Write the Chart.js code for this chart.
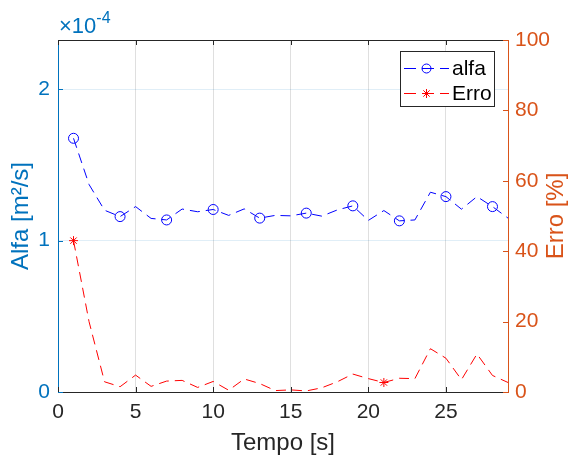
<!DOCTYPE html>
<html><head><meta charset="utf-8">
<script src="https://cdn.jsdelivr.net/npm/chart.js@4/dist/chart.umd.min.js"></script>
<style>html,body{margin:0;padding:0;background:#fff}canvas{display:block}</style>
</head><body>
<canvas id="c" width="586" height="462"></canvas>
<script>
// ---- data ----
const tempo = [1,2,3,4,5,6,7,8,9,10,11,12,13,14,15,16,17,18,19,20,21,22,23,24,25,26,27,28,29];
// alfa in units of 1e-4 m²/s
const alfa = [1.675,1.37,1.20,1.158,1.224,1.146,1.136,1.208,1.19,1.205,1.166,1.209,1.148,1.166,1.163,1.181,1.161,1.202,1.229,1.133,1.198,1.13,1.136,1.319,1.29,1.207,1.29,1.224,1.148];
// erro in %
const erro = [43.0,20.0,2.9,1.5,4.8,1.6,3.1,3.3,1.3,3.0,0.5,3.7,2.4,0.4,0.6,0.3,1.2,2.9,5.1,3.8,2.7,3.9,3.8,12.3,9.6,3.5,10.8,4.7,2.7];
const alfaMarkerIdx = [0,3,6,9,12,15,18,21,24,27];
const erroMarkerIdx = [0,20];
const xTicks = [0,5,10,15,20,25];
const alfaTicks = [0,1,2];
const erroTicks = [0,20,40,60,80,100];
const seriesNames = ['alfa','Erro'];

const FONT = "'Liberation Sans', Arial, Helvetica, sans-serif";
const BLUE_AX = '#0072BD', ORANGE_AX = '#D95319', DARK = '#262626';
const BLUE = '#0000FF', RED = '#FF0000';
const DASH = [10,6];
const TICK_SIZE = 21, TITLE_SIZE = 24;

const alfaPts = tempo.map((t,i)=>({x:t, y:alfa[i]}));
const erroPts = tempo.map((t,i)=>({x:t, y:erro[i]}));
const radii = (n, idx, r) => Array.from({length:n}, (_,i)=> idx.includes(i) ? r : 0);

const overlay = {
  id:'overlay',
  afterDraw(chart){
    const ctx = chart.ctx;
    const a = chart.chartArea;
    const xs = chart.scales.x, yl = chart.scales.y, yr = chart.scales.y2;
    ctx.save();
    // top border
    ctx.strokeStyle = DARK; ctx.lineWidth = 1;
    ctx.beginPath(); ctx.moveTo(a.left, a.top+0.5); ctx.lineTo(a.right, a.top+0.5); ctx.stroke();
    // inward ticks
    const TL = 5;
    xTicks.forEach(v=>{
      const px = Math.round(xs.getPixelForValue(v))+0.5;
      ctx.strokeStyle = DARK;
      ctx.beginPath(); ctx.moveTo(px, a.bottom); ctx.lineTo(px, a.bottom-TL);
      ctx.moveTo(px, a.top); ctx.lineTo(px, a.top+TL); ctx.stroke();
    });
    alfaTicks.forEach(v=>{
      const py = Math.round(yl.getPixelForValue(v))+0.5;
      ctx.strokeStyle = BLUE_AX;
      ctx.beginPath(); ctx.moveTo(a.left, py); ctx.lineTo(a.left+TL, py); ctx.stroke();
    });
    erroTicks.forEach(v=>{
      const py = Math.round(yr.getPixelForValue(v))+0.5;
      ctx.strokeStyle = ORANGE_AX;
      ctx.beginPath(); ctx.moveTo(a.right, py); ctx.lineTo(a.right-TL, py); ctx.stroke();
    });
    // exponent label
    ctx.fillStyle = BLUE_AX;
    ctx.textBaseline = 'alphabetic'; ctx.textAlign = 'left';
    ctx.font = '22px ' + FONT;
    ctx.fillText('\u00d710', 59, 33);
    const w = ctx.measureText('\u00d710').width;
    ctx.font = '16px ' + FONT;
    ctx.fillText('-4', 59 + w, 23);
    // right axis title (bottom-to-top)
    ctx.save();
    ctx.translate(556, (a.top + a.bottom)/2);
    ctx.rotate(-Math.PI/2);
    ctx.fillStyle = ORANGE_AX;
    ctx.font = TITLE_SIZE + 'px ' + FONT;
    ctx.textAlign = 'center'; ctx.textBaseline = 'middle';
    ctx.fillText('Erro [%]', 0, 0);
    ctx.restore();
    // legend
    const bx = 400.5, by = 51.5, bw = 94, bh = 55;
    ctx.fillStyle = '#fff'; ctx.fillRect(bx, by, bw, bh);
    ctx.strokeStyle = DARK; ctx.lineWidth = 1; ctx.strokeRect(bx, by, bw, bh);
    const rows = [{y:68, c:BLUE, f:'rgba(0,0,0,0)', m:'circle', t:seriesNames[0]}, {y:93, c:RED, f:RED, m:'star', t:seriesNames[1]}];
    rows.forEach(r=>{
      ctx.strokeStyle = r.c; ctx.lineWidth = 1;
      ctx.setLineDash([12,6]);
      ctx.beginPath(); ctx.moveTo(404, r.y+0.5); ctx.lineTo(449, r.y+0.5); ctx.stroke();
      ctx.setLineDash([]);
      ctx.fillStyle = r.f;
      Chart.helpers.drawPoint(ctx, {pointStyle:r.m, radius:4.5, rotation:0, borderWidth:1}, 426.5, r.y+0.5);
      ctx.fillStyle = '#000';
      ctx.font = '21px ' + FONT;
      ctx.textAlign = 'left'; ctx.textBaseline = 'middle';
      ctx.fillText(r.t, 452, r.y+1);
    });
    ctx.restore();
  }
};

new Chart(document.getElementById('c'), {
  type:'line',
  data:{
    datasets:[
      { label:seriesNames[0], data:alfaPts, yAxisID:'y', borderColor:BLUE, borderWidth:1, borderDash:DASH,
        pointStyle:'circle', pointRadius:radii(alfa.length, alfaMarkerIdx, 5), pointBorderColor:BLUE,
        pointBackgroundColor:'rgba(0,0,0,0)', pointBorderWidth:1, tension:0, fill:false },
      { label:seriesNames[1], data:erroPts, yAxisID:'y2', borderColor:RED, borderWidth:1, borderDash:DASH,
        pointStyle:'star', pointRadius:radii(erro.length, erroMarkerIdx, 4.5), pointBorderColor:RED,
        pointBackgroundColor:RED, pointBorderWidth:1, tension:0, fill:false }
    ]
  },
  options:{
    responsive:false, animation:false, devicePixelRatio:1,
    layout:{padding:{top:40,left:0,right:0,bottom:0}},
    plugins:{legend:{display:false}, tooltip:{enabled:false}},
    elements:{point:{hoverRadius:0}},
    scales:{
      x:{ type:'linear', min:0, max:29,
        afterFit(s){ s.height = 70; },
        afterBuildTicks(s){ s.ticks = xTicks.map(v=>({value:v})); },
        ticks:{ color:DARK, font:{family:FONT, size:TICK_SIZE}, padding:8, maxRotation:0 },
        grid:{ color:'#dfdfdf', drawTicks:false },
        border:{ color:DARK, width:1 },
        title:{ display:true, text:'Tempo [s]', color:DARK, font:{family:FONT, size:TITLE_SIZE}, padding:{top:0,bottom:4} }
      },
      y:{ type:'linear', position:'left', min:0, max:2.324,
        afterFit(s){ s.width = 58; },
        afterBuildTicks(s){ s.ticks = alfaTicks.map(v=>({value:v})); },
        ticks:{ color:BLUE_AX, font:{family:FONT, size:TICK_SIZE}, padding:8 },
        grid:{ color:'rgba(0,114,189,0.12)', drawTicks:false },
        border:{ color:BLUE_AX, width:1 },
        title:{ display:true, text:'Alfa [m\u00b2/s]', color:BLUE_AX, font:{family:FONT, size:TITLE_SIZE}, padding:{top:7,bottom:0} }
      },
      y2:{ type:'linear', position:'right', min:0, max:100,
        afterFit(s){ s.width = 78; },
        afterBuildTicks(s){ s.ticks = erroTicks.map(v=>({value:v})); },
        ticks:{ color:ORANGE_AX, font:{family:FONT, size:TICK_SIZE}, padding:7 },
        grid:{ drawOnChartArea:false, drawTicks:false },
        border:{ color:ORANGE_AX, width:1 }
      }
    }
  },
  plugins:[overlay]
});
</script>
</body></html>
